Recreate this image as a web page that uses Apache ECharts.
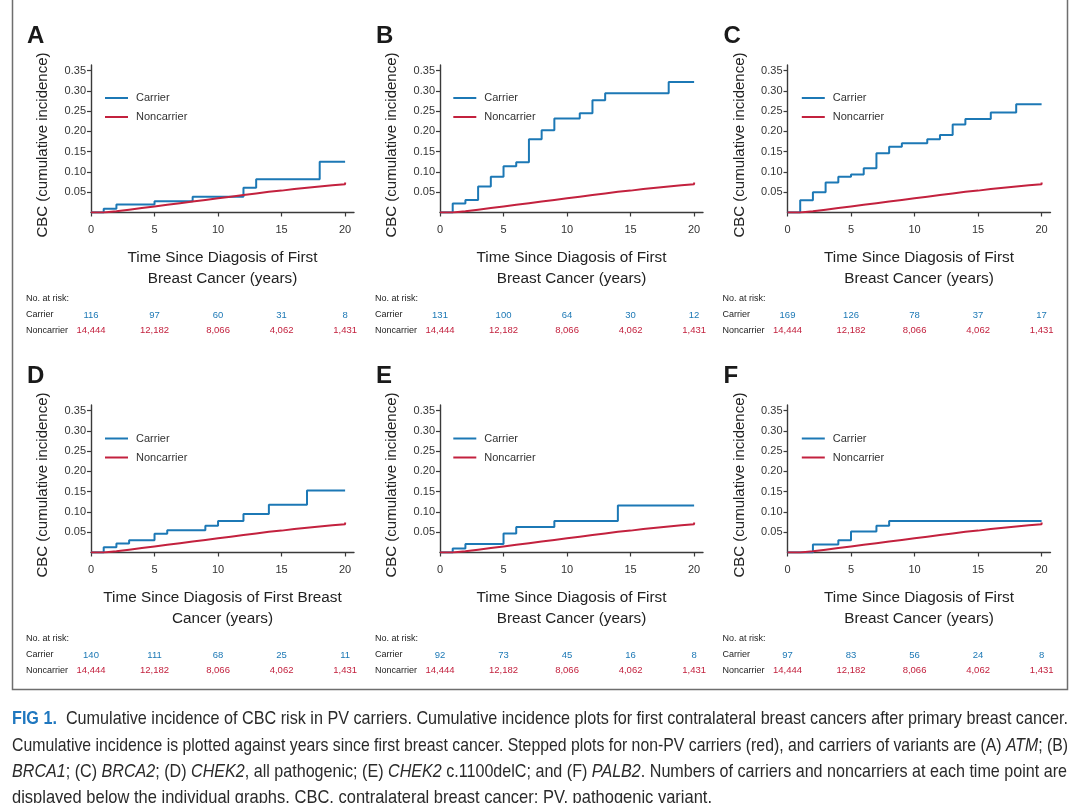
<!DOCTYPE html>
<html>
<head>
<meta charset="utf-8">
<script src="https://cdn.jsdelivr.net/npm/echarts@6/dist/echarts.min.js"></script>
<style>html,body{margin:0;padding:0;background:#fff;}#c{width:1080px;height:803px;}</style>
</head>
<body>
<div id="c"></div>
<script>
// ---------- data ----------
const panelLetters = ['A', 'B', 'C', 'D', 'E', 'F'];
const xTitles = [
  ['Time Since Diagosis of First', 'Breast Cancer (years)'],
  ['Time Since Diagosis of First', 'Breast Cancer (years)'],
  ['Time Since Diagosis of First', 'Breast Cancer (years)'],
  ['Time Since Diagosis of First Breast', 'Cancer (years)'],
  ['Time Since Diagosis of First', 'Breast Cancer (years)'],
  ['Time Since Diagosis of First', 'Breast Cancer (years)']
];
const yTitle = 'CBC (cumulative incidence)';
const seriesNames = ['Carrier', 'Noncarrier'];
const xTickValues = [0, 5, 10, 15, 20];
const xTickLabels = ['0', '5', '10', '15', '20'];
const yTickValues = [0.05, 0.10, 0.15, 0.20, 0.25, 0.30, 0.35];
const yTickLabels = ['0.05', '0.10', '0.15', '0.20', '0.25', '0.30', '0.35'];

// carrier step curves (year of step, cumulative incidence after the step)
const carrierA_years = [0, 1, 2, 5, 8, 12, 13, 18, 20];
const carrierA_cbc   = [0, 0.009, 0.020, 0.028, 0.039, 0.061, 0.082, 0.125, 0.125];
const carrierB_years = [0, 1, 2, 3, 4, 5, 6, 7, 8, 9, 11, 12, 13, 18, 20];
const carrierB_cbc   = [0, 0.022, 0.031, 0.064, 0.088, 0.114, 0.124, 0.181, 0.203, 0.232, 0.245, 0.277, 0.294, 0.322, 0.322];
const carrierC_years = [0, 1, 2, 3, 4, 5, 6, 7, 8, 9, 11, 12, 13, 14, 16, 18, 20];
const carrierC_cbc   = [0, 0.030, 0.050, 0.074, 0.088, 0.094, 0.109, 0.146, 0.162, 0.171, 0.181, 0.191, 0.217, 0.231, 0.247, 0.267, 0.267];
const carrierD_years = [0, 1, 2, 3, 5, 6, 9, 10, 12, 14, 17, 20];
const carrierD_cbc   = [0, 0.013, 0.022, 0.030, 0.046, 0.055, 0.066, 0.078, 0.095, 0.118, 0.153, 0.153];
const carrierE_years = [0, 1, 2, 5, 6, 9, 14, 20];
const carrierE_cbc   = [0, 0.010, 0.021, 0.047, 0.063, 0.078, 0.116, 0.116];
const carrierF_years = [0, 2, 4, 5, 7, 8, 20];
const carrierF_cbc   = [0, 0.020, 0.030, 0.052, 0.066, 0.078, 0.078];

// noncarrier step curve (same in every panel)
const noncarrier_years = [0, 1, 2, 3, 4, 5, 6, 7, 8, 9, 10, 11, 12, 13, 14, 15, 16, 17, 18, 19, 20];
const noncarrier_cbc   = [0, 0.003, 0.007, 0.011, 0.015, 0.019, 0.023, 0.027, 0.031, 0.035, 0.039, 0.043, 0.047, 0.051, 0.054, 0.058, 0.061, 0.064, 0.067, 0.070, 0.074];

// numbers at risk at years 0, 5, 10, 15, 20
const atRiskCarrierA = [116, 97, 60, 31, 8];
const atRiskCarrierB = [131, 100, 64, 30, 12];
const atRiskCarrierC = [169, 126, 78, 37, 17];
const atRiskCarrierD = [140, 111, 68, 25, 11];
const atRiskCarrierE = [92, 73, 45, 16, 8];
const atRiskCarrierF = [97, 83, 56, 24, 8];
const atRiskNoncarrier = [14444, 12182, 8066, 4062, 1431];

const carrierYears = [carrierA_years, carrierB_years, carrierC_years, carrierD_years, carrierE_years, carrierF_years];
const carrierCbc = [carrierA_cbc, carrierB_cbc, carrierC_cbc, carrierD_cbc, carrierE_cbc, carrierF_cbc];
const atRiskCarrier = [atRiskCarrierA, atRiskCarrierB, atRiskCarrierC, atRiskCarrierD, atRiskCarrierE, atRiskCarrierF];

const captionLines = [
  [['b', 'FIG 1.'], ['n', '  Cumulative incidence of CBC risk in PV carriers. Cumulative incidence plots for first contralateral breast cancers after primary breast cancer.']],
  [['n', 'Cumulative incidence is plotted against years since first breast cancer. Stepped plots for non-PV carriers (red), and carriers of variants are (A) '], ['i', 'ATM'], ['n', '; (B)']],
  [['i', 'BRCA1'], ['n', '; (C) '], ['i', 'BRCA2'], ['n', '; (D) '], ['i', 'CHEK2'], ['n', ', all pathogenic; (E) '], ['i', 'CHEK2'], ['n', ' c.1100delC; and (F) '], ['i', 'PALB2'], ['n', '. Numbers of carriers and noncarriers at each time point are']],
  [['n', 'displayed below the individual graphs. CBC, contralateral breast cancer; PV, pathogenic variant.']]
];

// ---------- layout / style ----------
const BLUE = '#1c78b5';
const RED = '#c3213e';
const AXIS = '#3a3a3a';
const FONT = '"Liberation Sans", Arial, sans-serif';
const colLeft = [91, 440, 787.5];
const rowTop = [65, 405];
const GW = 263, GH = 147.5;

const zip = (xs, ys) => xs.map((x, i) => [x, ys[i]]);
const fmtNum = n => String(n).replace(/\B(?=(\d{3})+(?!\d))/g, ',');

const grids = [], xAxes = [], yAxes = [], series = [], legends = [];
for (let p = 0; p < 6; p++) {
  const col = p % 3, row = Math.floor(p / 3);
  grids.push({left: colLeft[col], top: rowTop[row], width: GW, height: GH});
  xAxes.push({
    type: 'value', gridIndex: p, min: 0, max: 20.7,
    axisLine: {lineStyle: {color: AXIS, width: 1.4}},
    axisTick: {show: true, length: 4, inside: false, customValues: xTickValues, lineStyle: {color: AXIS, width: 1.2}},
    axisLabel: {customValues: xTickValues, formatter: v => xTickLabels[xTickValues.indexOf(v)] ?? '', color: '#333', fontSize: 11, fontFamily: FONT, margin: 12},
    splitLine: {show: false}
  });
  yAxes.push({
    type: 'value', gridIndex: p, min: 0, max: 0.364,
    axisLine: {show: true, lineStyle: {color: AXIS, width: 1.4}},
    axisTick: {show: true, length: 4, customValues: yTickValues, lineStyle: {color: AXIS, width: 1.2}},
    axisLabel: {customValues: yTickValues, formatter: v => {
      const i = yTickValues.findIndex(t => Math.abs(t - v) < 1e-6); return i >= 0 ? yTickLabels[i] : '';
    }, color: '#333', fontSize: 11, fontFamily: FONT, margin: 5},
    splitLine: {show: false}
  });
  series.push({
    name: seriesNames[0], type: 'line', step: 'end', xAxisIndex: p, yAxisIndex: p,
    symbol: 'none', data: zip(carrierYears[p], carrierCbc[p]),
    lineStyle: {color: BLUE, width: 2}, itemStyle: {color: BLUE}, z: 2
  });
  series.push({
    name: seriesNames[1], type: 'line', step: 'end', xAxisIndex: p, yAxisIndex: p,
    symbol: 'none', data: zip(noncarrier_years, noncarrier_cbc),
    lineStyle: {color: RED, width: 2}, itemStyle: {color: RED}, z: 3
  });
  legends.push({
    data: seriesNames, orient: 'vertical', padding: 0,
    left: colLeft[col] + 14 + (col === 1 ? -0.7 : 0) + (col === 2 ? 0.3 : 0),
    top: rowTop[row] + 27.5 + (row === 1 ? 0.5 : 0),
    itemWidth: 23, itemHeight: 10, itemGap: 8,
    selectedMode: false,
    textStyle: {color: '#333', fontSize: 11, fontFamily: FONT, padding: [0, 0, 0, 3]},
    icon: 'path://M0,4 L23,4 L23,6 L0,6 Z'
  });
}

const chart = echarts.init(document.getElementById('c'), null, {renderer: 'canvas'});
chart.setOption({
  animation: false,
  backgroundColor: '#fff',
  grid: grids, xAxis: xAxes, yAxis: yAxes, series: series, legend: legends
});

// ---------- text elements ----------
const graphics = [];
// frame around the figure
graphics.push({type: 'polyline', shape: {points: [[12.5, -2], [12.5, 689.5], [1067.5, 689.5], [1067.5, -2]]},
  style: {stroke: '#6e6e6e', lineWidth: 1.5, fill: null}, silent: true});

for (let p = 0; p < 6; p++) {
  const col = p % 3, row = Math.floor(p / 3);
  const gl = colLeft[col], gt = rowTop[row];
  const dy = row * 340;
  // panel letter
  graphics.push({type: 'text', x: gl - 64, y: 36 + dy, style: {text: panelLetters[p], font: 'bold 24px ' + FONT, fill: '#1a1a1a', verticalAlign: 'middle', textAlign: 'left'}});
  // y title
  graphics.push({type: 'text', x: gl - 48, y: gt + 80, rotation: Math.PI / 2,
    style: {text: yTitle, font: '15px ' + FONT, fill: '#222', textAlign: 'center', verticalAlign: 'middle'}});
  // x title
  xTitles[p].forEach((t, k) => graphics.push({type: 'text', x: gl + 131.5, y: 258 + dy + k * 21,
    style: {text: t, font: '15.3px ' + FONT, fill: '#222', textAlign: 'center', verticalAlign: 'middle'}}));
  // at-risk table
  const lx = gl - 65;
  graphics.push({type: 'text', x: lx, y: 299 + dy, style: {text: 'No. at risk:', font: '9px ' + FONT, fill: '#222', verticalAlign: 'middle'}});
  graphics.push({type: 'text', x: lx, y: 315 + dy, style: {text: seriesNames[0], font: '9px ' + FONT, fill: '#222', verticalAlign: 'middle'}});
  graphics.push({type: 'text', x: lx, y: 330.5 + dy, style: {text: seriesNames[1], font: '9px ' + FONT, fill: '#222', verticalAlign: 'middle'}});
  xTickValues.forEach((v, k) => {
    const px = chart.convertToPixel({xAxisIndex: p}, v);
    graphics.push({type: 'text', x: px, y: 315 + dy, style: {text: fmtNum(atRiskCarrier[p][k]), font: '9.5px ' + FONT, fill: BLUE, textAlign: 'center', verticalAlign: 'middle'}});
    graphics.push({type: 'text', x: px, y: 330.5 + dy, style: {text: fmtNum(atRiskNoncarrier[k]), font: '9.5px ' + FONT, fill: RED, textAlign: 'center', verticalAlign: 'middle'}});
  });
}

// caption (condensed by horizontal scaling of a regular face)
const CAP_SIZE = 19;
const ctx = document.createElement('canvas').getContext('2d');
const fontOf = k => (k === 'b' ? 'bold ' : k === 'i' ? 'italic ' : '') + CAP_SIZE + 'px ' + FONT;
const lineWidthOf = segs => segs.reduce((s, [k, t]) => { ctx.font = fontOf(k); return s + ctx.measureText(t).width; }, 0);
const capTargets = [1056, 1056, 1055, 700];
const capY = [719, 746, 772, 798];
captionLines.forEach((segs, li) => {
  const w = lineWidthOf(segs);
  const s = capTargets[li] / w;
  graphics.push({type: 'text', x: 12, y: capY[li], scaleX: s, scaleY: 1,
    style: {
      text: segs.map(([k, t]) => '{' + k + '|' + t.replace(/[{}|]/g, '') + '}').join(''),
      verticalAlign: 'middle', textAlign: 'left',
      rich: {
        n: {font: fontOf('n'), fill: '#2a2a2a'},
        i: {font: fontOf('i'), fill: '#2a2a2a'},
        b: {font: fontOf('b'), fill: '#1f77bf'}
      }
    }});
});

chart.setOption({graphic: {elements: graphics}});
</script>
</body>
</html>
